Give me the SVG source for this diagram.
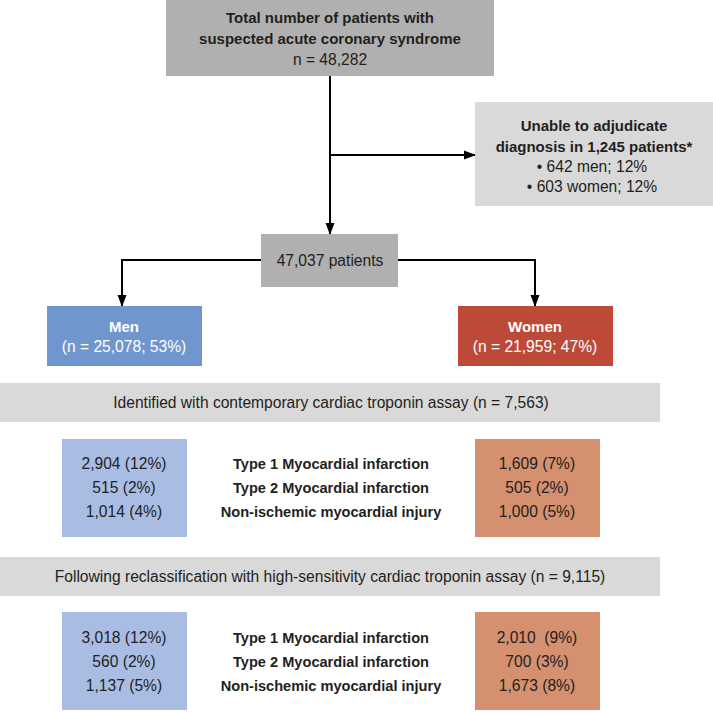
<svg xmlns="http://www.w3.org/2000/svg" width="713" height="713" viewBox="0 0 713 713">
<style>
text{font-family:"Liberation Sans",Arial,sans-serif;font-size:15.6px;fill:#231f20;text-anchor:middle}
.b{font-weight:bold;font-size:15px}
.l{font-weight:bold;font-size:14.6px}
.w{fill:#ffffff}
.ln{stroke:#000;stroke-width:2;fill:none}
</style>
<defs>
<marker id="ah" markerWidth="12" markerHeight="10" refX="11" refY="5" orient="auto" markerUnits="userSpaceOnUse">
<path d="M0,0.5 L12,5 L0,9.5 Z" fill="#000"/>
</marker>
</defs>
<rect width="713" height="713" fill="#fff"/>
<g id="connectors">
<path class="ln" d="M330,76 V234" marker-end="url(#ah)"/>
<path class="ln" d="M330,155 H475" marker-end="url(#ah)"/>
<path class="ln" d="M261,260 H122 V306" marker-end="url(#ah)"/>
<path class="ln" d="M398,260 H535 V306" marker-end="url(#ah)"/>
</g>
<g id="total">
<rect x="166" y="0" width="328" height="76" fill="#b0b0b0"/>
<text x="330" y="23" class="b">Total number of patients with</text>
<text x="330" y="44" class="b">suspected acute coronary syndrome</text>
<text x="330" y="65">n = 48,282</text>
</g>
<g id="unable">
<rect x="475" y="102" width="238" height="104" fill="#d9d9d9"/>
<text x="594" y="131" class="b">Unable to adjudicate</text>
<text x="594" y="152" class="b">diagnosis in 1,245 patients*</text>
<text x="592" y="172">• 642 men; 12%</text>
<text x="592" y="192">• 603 women; 12%</text>
</g>
<g id="patients">
<rect x="261" y="234" width="137" height="53" fill="#b0b0b0"/>
<text x="330" y="266">47,037 patients</text>
</g>
<g id="men">
<rect x="47" y="306" width="155" height="60" fill="#7096d0"/>
<text x="124" y="332" class="b w">Men</text>
<text x="124" y="352" class="w">(n = 25,078; 53%)</text>
</g>
<g id="women">
<rect x="458" y="306" width="155" height="60" fill="#bd4a38"/>
<text x="535" y="332" class="b w">Women</text>
<text x="535" y="352" class="w">(n = 21,959; 47%)</text>
</g>
<g id="band1">
<rect x="0" y="383" width="660" height="39" fill="#d9d9d9"/>
<text x="331" y="408">Identified with contemporary cardiac troponin assay (n = 7,563)</text>
</g>
<g id="men1">
<rect x="62" y="439" width="125" height="98" fill="#a9bde4"/>
<text x="124" y="469">2,904 (12%)</text>
<text x="124" y="493">515 (2%)</text>
<text x="124" y="517">1,014 (4%)</text>
</g>
<g id="labels1">
<text x="331" y="469" class="l">Type 1 Myocardial infarction</text>
<text x="331" y="493" class="l">Type 2 Myocardial infarction</text>
<text x="331" y="517" class="l">Non-ischemic myocardial injury</text>
</g>
<g id="women1">
<rect x="475" y="439" width="125" height="98" fill="#d4906f"/>
<text x="537" y="469">1,609 (7%)</text>
<text x="537" y="493">505 (2%)</text>
<text x="537" y="517">1,000 (5%)</text>
</g>
<g id="band2">
<rect x="0" y="557" width="660" height="39" fill="#d9d9d9"/>
<text x="330" y="582">Following reclassification with high-sensitivity cardiac troponin assay (n = 9,115)</text>
</g>
<g id="men2">
<rect x="62" y="612" width="125" height="98" fill="#a9bde4"/>
<text x="124" y="643">3,018 (12%)</text>
<text x="124" y="667">560 (2%)</text>
<text x="124" y="691">1,137 (5%)</text>
</g>
<g id="labels2">
<text x="331" y="643" class="l">Type 1 Myocardial infarction</text>
<text x="331" y="667" class="l">Type 2 Myocardial infarction</text>
<text x="331" y="691" class="l">Non-ischemic myocardial injury</text>
</g>
<g id="women2">
<rect x="475" y="612" width="125" height="98" fill="#d4906f"/>
<text x="537" y="643" xml:space="preserve">2,010  (9%)</text>
<text x="537" y="667">700 (3%)</text>
<text x="537" y="691">1,673 (8%)</text>
</g>
</svg>
